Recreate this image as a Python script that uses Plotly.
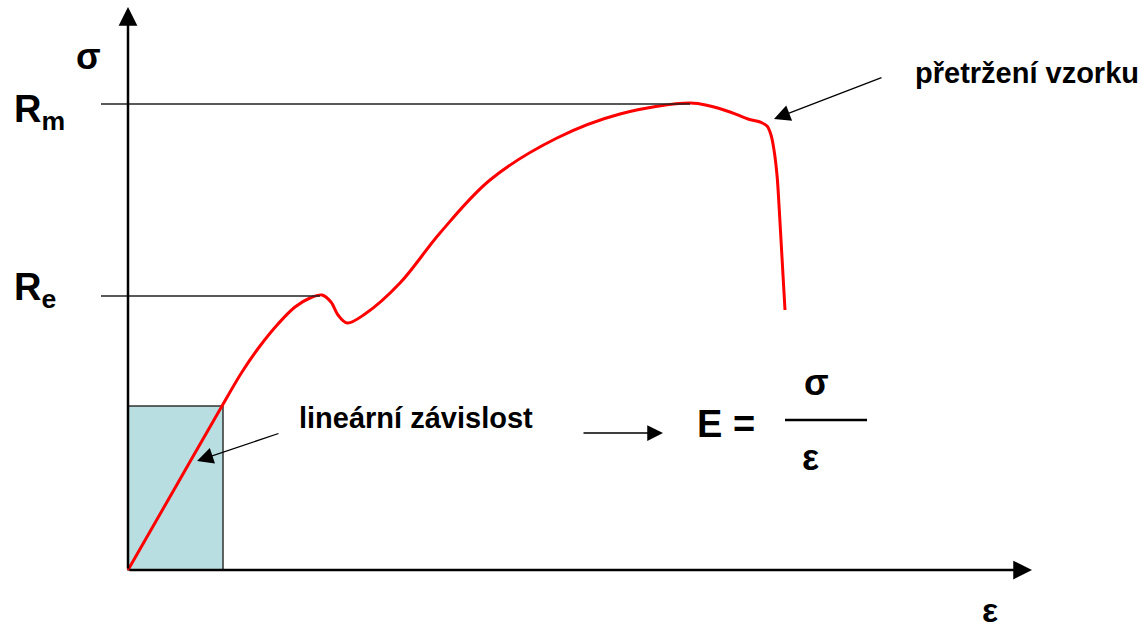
import plotly.graph_objects as go

# Stress–strain curve (strain ε, stress σ in arbitrary units)
strain = [0.00, 0.47, 0.94, 1.14, 1.32, 1.50, 1.67, 1.82, 1.94, 2.03, 2.10, 2.19,
          2.37, 2.72, 3.12, 3.62, 4.29, 4.92, 5.62, 5.82, 6.02, 6.20, 6.32, 6.39,
          6.43, 6.46, 6.49, 6.51, 6.53, 6.55, 6.57]
stress = [0.00, 0.82, 1.64, 1.98, 2.24, 2.46, 2.63, 2.72, 2.75, 2.68, 2.55, 2.47,
          2.56, 2.87, 3.37, 3.90, 4.32, 4.56, 4.67, 4.64, 4.58, 4.51, 4.48, 4.44,
          4.35, 4.20, 3.95, 3.65, 3.30, 2.95, 2.60]

# Characteristic levels
R_m = 4.66
R_e = 2.74
# Linear (elastic) region
lin_strain = 0.95
lin_stress = 1.64

FONT = "Liberation Sans, Arial, sans-serif"

fig = go.Figure()

# Shaded elastic region
fig.add_shape(type="rect", x0=0, y0=0, x1=lin_strain, y1=lin_stress,
              xref="x", yref="y", fillcolor="#b8dee2",
              line=dict(color="#333333", width=1.5), layer="below")

# Horizontal guide lines for Rm and Re
fig.add_shape(type="line", x0=-0.27, x1=5.62, y0=R_m, y1=R_m, xref="x", yref="y",
              line=dict(color="#222222", width=1.5))
fig.add_shape(type="line", x0=-0.27, x1=1.92, y0=R_e, y1=R_e, xref="x", yref="y",
              line=dict(color="#222222", width=1.5))

# Curve
fig.add_trace(go.Scatter(x=strain, y=stress, mode="lines",
                         line=dict(color="#ff0000", width=3, shape="spline", smoothing=1.0),
                         hoverinfo="skip", showlegend=False))

# Fraction bar of E = σ/ε
fig.add_shape(type="line", x0=6.57, x1=7.39, y0=1.50, y1=1.50, xref="x", yref="y",
              line=dict(color="#000000", width=2.5))


def arrow(x0, y0, x1, y1, width, size):
    fig.add_annotation(x=x1, y=y1, ax=x0, ay=y0, xref="x", yref="y",
                       axref="x", ayref="y", text="", showarrow=True,
                       arrowhead=2, arrowsize=size, arrowwidth=width,
                       arrowcolor="#000000", standoff=0, startstandoff=0)


# Axes with arrowheads
arrow(0, 0, 0, 5.63, 2.5, 1.5)
arrow(0, 0, 9.04, 0, 2.5, 1.5)
# Pointer arrows
arrow(1.52, 1.37, 0.69, 1.09, 1.3, 2.5)
arrow(4.54, 1.37, 5.35, 1.37, 1.5, 2.1)
arrow(7.55, 4.93, 6.46, 4.51, 1.3, 2.5)


def label(x, y, text, size, xanchor="center"):
    fig.add_annotation(x=x, y=y, xref="x", yref="y", text=text, showarrow=False,
                       xanchor=xanchor, yanchor="middle",
                       font=dict(family=FONT, size=size, color="#000000"))


label(-0.40, 5.14, "<b>σ</b>", 36)
label(-1.16, 4.58, "<b>R<sub>m</sub></b>", 38, "left")
label(-1.16, 2.80, "<b>R<sub>e</sub></b>", 38, "left")
label(1.69, 1.52, "<b>lineární závislost</b>", 29, "left")
label(7.85, 4.97, "<b>přetržení vzorku</b>", 29, "left")
label(5.67, 1.46, "<b>E =</b>", 38, "left")
label(6.88, 1.88, "<b>σ</b>", 36)
label(6.82, 1.13, "<b>ε</b>", 36)
label(8.62, -0.40, "<b>ε</b>", 34)

fig.update_layout(
    width=1144, height=629,
    margin=dict(l=0, r=0, t=0, b=0),
    paper_bgcolor="white", plot_bgcolor="white",
    xaxis=dict(range=[-1.28, 10.16], visible=False, fixedrange=True),
    yaxis=dict(range=[-0.59, 5.70], visible=False, fixedrange=True),
    showlegend=False,
)

fig.write_html("out.html")
